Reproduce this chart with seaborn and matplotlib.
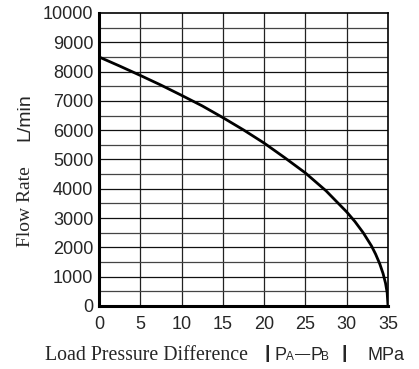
import matplotlib
matplotlib.use("Agg")
import matplotlib.pyplot as plt
import pandas as pd
import seaborn as sns

# values
pressure = [0, 2.5, 5, 7.5, 10, 12.5, 15, 17.5, 20, 22.5, 25, 27.5, 30,
            31, 32, 33, 33.5, 34, 34.4, 34.7, 34.9, 35]
flow = [8500, 8190, 7870, 7540, 7190, 6830, 6430, 6010, 5560, 5060, 4540,
        3930, 3210, 2880, 2500, 2050, 1770, 1440, 1110, 780, 450, 0]

x_ticks = [0, 5, 10, 15, 20, 25, 30, 35]
y_ticks = [0, 1000, 2000, 3000, 4000, 5000, 6000, 7000, 8000, 9000, 10000]

df = pd.DataFrame({"pressure": pressure, "flow": flow})

sns.set_style("white")
plt.rcParams["font.family"] = ["Liberation Sans", "DejaVu Sans"]

W, H = 419, 369
fig = plt.figure(figsize=(W / 100, H / 100), dpi=100)
ax = fig.add_axes([99 / W, 1 - 306 / H, 289 / W, 293 / H])

# grid: every 5 MPa vertically, every 500 L/min horizontally
for xv in range(5, 35, 5):
    ax.axvline(xv, color="#222222", lw=0.9, zorder=1)
for yv in range(500, 10000, 500):
    ax.axhline(yv, color="#444444" if yv % 1000 else "#111111", lw=0.9, zorder=1)

sns.lineplot(data=df, x="pressure", y="flow", color="black", lw=2, ax=ax, zorder=3)

ax.set_xlim(0, 35)
ax.set_ylim(0, 10000)
ax.set_xticks(x_ticks)
ax.set_yticks(y_ticks)
ax.tick_params(length=0, labelsize=13)
ax.tick_params(axis="x", pad=7)
ax.tick_params(axis="y", pad=4)
ax.set_xlabel("")
ax.set_ylabel("")

for side in ["left", "bottom"]:
    ax.spines[side].set_linewidth(2.2)
for side in ["top", "right"]:
    ax.spines[side].set_linewidth(1.2)
for s in ax.spines.values():
    s.set_color("black")
    s.set_zorder(4)


def px(x, y):
    return x / W, 1 - y / H


serif = ["Liberation Serif", "DejaVu Serif"]

# axis titles
fig.text(*px(45, 355), "Load Pressure Difference", family=serif, fontsize=14.3,
         va="center", ha="left")
fig.text(*px(264, 354), "|", fontsize=14, va="center", ha="left", weight="bold")
fig.text(*px(275, 355), "P", fontsize=13, va="center", ha="left")
fig.text(*px(286, 356.5), "A", fontsize=8.5, va="center", ha="left")
fig.text(*px(295, 354.5), "—", fontsize=11, va="center", ha="left")
fig.text(*px(310, 355), "P", fontsize=13, va="center", ha="left")
fig.text(*px(321, 356.5), "B", fontsize=8.5, va="center", ha="left")
fig.text(*px(341, 354), "|", fontsize=14, va="center", ha="left", weight="bold")
fig.text(*px(367, 355), "MPa", fontsize=13, va="center", ha="left")

fig.text(*px(25, 207), "Flow Rate", family=serif, fontsize=14, rotation=90,
         va="center", ha="center")
fig.text(*px(25, 117), "L/min", fontsize=14, rotation=90, va="center", ha="center")

fig.savefig("out.png", dpi=100)
